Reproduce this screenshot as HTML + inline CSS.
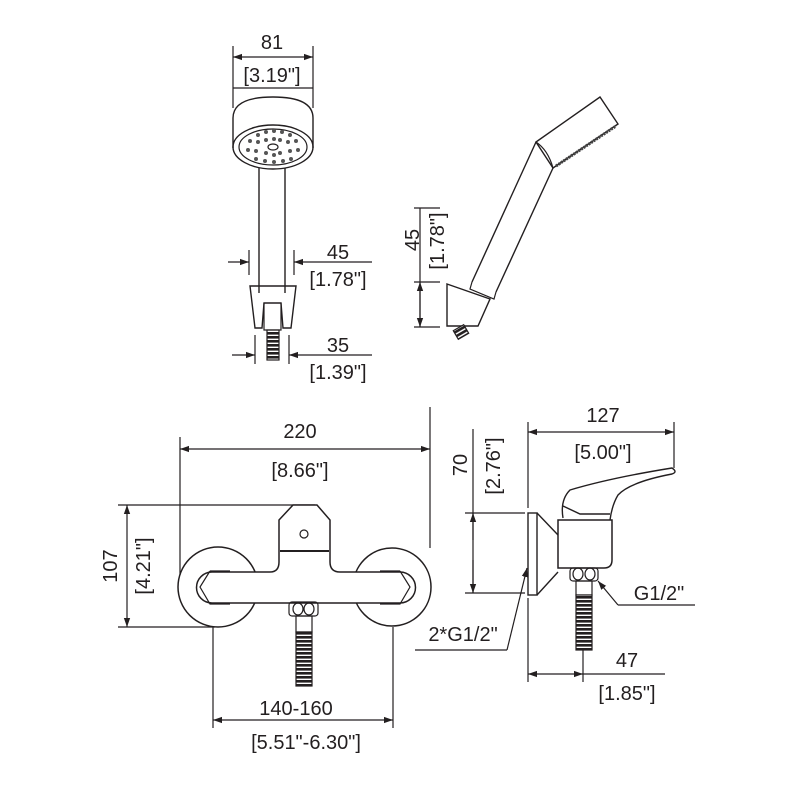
<!DOCTYPE html>
<html><head><style>html,body{margin:0;padding:0;background:#fff}svg{display:block}text{font-family:"Liberation Sans",sans-serif;font-size:20px;fill:#231f20}</style></head><body>
<svg width="800" height="800" viewBox="0 0 800 800" xmlns="http://www.w3.org/2000/svg">
<defs><marker id="a" viewBox="0 0 10 10" refX="10" refY="5" markerWidth="9" markerHeight="9" orient="auto-start-reverse" markerUnits="userSpaceOnUse"><path d="M0,1.5L10,5L0,8.5z" fill="#231f20"/></marker>
<pattern id="th" width="4" height="4" patternUnits="userSpaceOnUse"><rect width="4" height="4" fill="#fff"/><rect width="4" height="2.6" fill="#231f20"/></pattern></defs>
<g stroke="#231f20" fill="none" stroke-width="1.2">
<!-- top hand shower -->
<line x1="233" y1="46" x2="233" y2="108"/><line x1="313" y1="46" x2="313" y2="108"/>
<line x1="233" y1="57" x2="313" y2="57" marker-start="url(#a)" marker-end="url(#a)"/>
<line x1="233" y1="88" x2="313" y2="88"/>
<path d="M233,118 Q233,97 273,97 Q313,97 313,118 L313,148 M233,118 L233,148" stroke-width="1.4"/>
<ellipse cx="273" cy="147" rx="40" ry="22" stroke-width="1.4"/>
<ellipse cx="273" cy="147" rx="34" ry="18"/>
<g fill="#555" stroke="none">
<circle cx="258" cy="135" r="2"/><circle cx="266" cy="132" r="2"/><circle cx="274" cy="131" r="2"/><circle cx="282" cy="132" r="2"/><circle cx="290" cy="135" r="2"/>
<circle cx="250" cy="141" r="2"/><circle cx="258" cy="142" r="2"/><circle cx="288" cy="142" r="2"/><circle cx="296" cy="141" r="2"/>
<circle cx="248" cy="150" r="2"/><circle cx="256" cy="151" r="2"/><circle cx="290" cy="151" r="2"/><circle cx="298" cy="150" r="2"/>
<circle cx="256" cy="159" r="2"/><circle cx="265" cy="161" r="2"/><circle cx="274" cy="162" r="2"/><circle cx="283" cy="161" r="2"/><circle cx="291" cy="159" r="2"/>
<circle cx="266" cy="140" r="2"/><circle cx="280" cy="140" r="2"/><circle cx="266" cy="153" r="2"/><circle cx="280" cy="153" r="2"/><circle cx="274" cy="155" r="2"/><circle cx="274" cy="139" r="2"/>
</g>
<ellipse cx="273" cy="147" rx="5" ry="3"/>
<line x1="259" y1="168" x2="259" y2="293" stroke-width="1.4"/><line x1="285" y1="168" x2="285" y2="293" stroke-width="1.4"/>
<path d="M250,286 L296,286 L291,328 L283,328 L281,303 L264,303 L262,328 L255,328 Z" stroke-width="1.4"/>
<path d="M264,303 L264,330 L281,330 L281,303"/>
<rect x="267" y="330" width="12" height="30" fill="url(#th)"/>
<line x1="249" y1="250" x2="249" y2="275"/><line x1="294" y1="250" x2="294" y2="275"/>
<line x1="228" y1="262" x2="249" y2="262" marker-end="url(#a)"/><line x1="372" y1="262" x2="294" y2="262" marker-end="url(#a)"/>
<line x1="255" y1="335" x2="255" y2="364"/><line x1="289" y1="335" x2="289" y2="364"/>
<line x1="232" y1="355" x2="255" y2="355" marker-end="url(#a)"/><line x1="372" y1="355" x2="289" y2="355" marker-end="url(#a)"/>
<!-- angled hand shower -->
<path d="M536,142 L600,97 L618,124 L553,168 Z" stroke-width="1.4"/>
<path d="M536,142 Q548,150 553,168"/>
<line x1="556" y1="166" x2="616" y2="126" stroke="#444" stroke-width="3" stroke-dasharray="2 1"/>
<line x1="536" y1="142" x2="472" y2="282" stroke-width="1.4"/><line x1="553" y1="168" x2="496" y2="292" stroke-width="1.4"/>
<path d="M472,282 L470,289 L494,299 L496,292" stroke-width="1.2"/>
<path d="M447,284 L490,299 L478,326 L447,326 Z" stroke-width="1.4"/>
<rect x="455" y="327" width="12" height="10" fill="url(#th)" transform="rotate(-30 461 332)"/>
<line x1="414" y1="208" x2="440" y2="208"/><line x1="414" y1="282" x2="440" y2="282"/><line x1="414" y1="327" x2="440" y2="327"/>
<line x1="420" y1="208" x2="420" y2="327"/>
<line x1="420" y1="305" x2="420" y2="282" marker-end="url(#a)"/><line x1="420" y1="305" x2="420" y2="327" marker-end="url(#a)"/>
<!-- front mixer -->
<line x1="180" y1="437" x2="180" y2="575"/><line x1="430" y1="407" x2="430" y2="548"/>
<line x1="180" y1="449" x2="430" y2="449" marker-start="url(#a)" marker-end="url(#a)"/>
<line x1="118" y1="505" x2="315" y2="505"/><line x1="118" y1="627" x2="215" y2="627"/>
<line x1="127" y1="505" x2="127" y2="627" marker-start="url(#a)" marker-end="url(#a)"/>
<circle cx="218" cy="587" r="40" stroke-width="1.5"/><circle cx="392" cy="587" r="39" stroke-width="1.5"/>
<path d="M279,520 L293,505 L317,505 L330,520 L330,562 Q330,572 340,572 L400,572 A15.5,15.5 0 0 1 400,603 L212,603 A15.5,15.5 0 0 1 212,572 L270,572 Q279,572 279,562 Z" fill="#fff" stroke-width="1.5"/>
<line x1="280" y1="551" x2="329" y2="551" stroke-width="2"/>
<circle cx="304" cy="534" r="4"/>
<path d="M210,571 L200,587 L210,604 L230,604 M210,571 L230,571" stroke-width="1.2"/>
<path d="M400,571 L410,587 L400,604 L380,604 M400,571 L380,571"/>
<rect x="289" y="602" width="29" height="14" rx="3"/>
<ellipse cx="298" cy="609" rx="5" ry="6"/><ellipse cx="309" cy="609" rx="5" ry="6"/>
<rect x="296" y="616" width="16" height="16"/>
<rect x="296" y="632" width="16" height="54" fill="url(#th)"/>
<line x1="213" y1="627" x2="213" y2="728"/><line x1="393" y1="627" x2="393" y2="728"/>
<line x1="213" y1="720" x2="393" y2="720" marker-start="url(#a)" marker-end="url(#a)"/>
<line x1="415" y1="650" x2="507" y2="650"/><line x1="507" y1="650" x2="527" y2="568" marker-end="url(#a)"/>
<!-- side view -->
<line x1="528" y1="422" x2="528" y2="508"/><line x1="674" y1="422" x2="674" y2="468"/>
<line x1="528" y1="432" x2="674" y2="432" marker-start="url(#a)" marker-end="url(#a)"/>
<line x1="465" y1="513" x2="525" y2="513"/><line x1="465" y1="593" x2="525" y2="593"/>
<line x1="473" y1="429" x2="473" y2="593"/>
<line x1="473" y1="540" x2="473" y2="513" marker-end="url(#a)"/><line x1="473" y1="560" x2="473" y2="593" marker-end="url(#a)"/>
<rect x="528" y="513" width="9" height="82" stroke-width="1.4"/>
<path d="M537,513 L558,535 M537,595 L558,572" stroke-width="1.4"/>
<path d="M558,520 L612,520 L612,560 Q612,568 604,568 L558,568 Z" fill="#fff" stroke-width="1.5"/>
<path d="M563,518 Q560,500 570,490 Q610,478 672,468 Q678,472 672,474 Q630,482 618,495 Q612,505 610,520 M563,506 L580,514 L610,514" stroke-width="1.4"/>
<rect x="570" y="568" width="28" height="13" rx="3"/>
<ellipse cx="578" cy="574" rx="5" ry="6"/><ellipse cx="590" cy="574" rx="5" ry="6"/>
<rect x="576" y="581" width="16" height="14"/>
<rect x="576" y="595" width="16" height="55" fill="url(#th)"/>
<line x1="695" y1="605" x2="618" y2="605"/><line x1="618" y1="605" x2="598" y2="581" marker-end="url(#a)"/>
<line x1="528" y1="598" x2="528" y2="682"/><line x1="583" y1="650" x2="583" y2="682"/>
<line x1="528" y1="674" x2="583" y2="674" marker-start="url(#a)" marker-end="url(#a)"/>
<line x1="583" y1="674" x2="665" y2="674"/>
</g>
<g text-anchor="middle">
<text x="272" y="49">81</text><text x="272" y="82">[3.19"]</text>
<text x="338" y="259">45</text><text x="338" y="286">[1.78"]</text>
<text x="338" y="352">35</text><text x="338" y="379">[1.39"]</text>
<text transform="translate(419,240) rotate(-90)">45</text>
<text transform="translate(444,241) rotate(-90)">[1.78"]</text>
<text x="300" y="438" font-size="22">220</text><text x="300" y="477" font-size="22">[8.66"]</text>
<text transform="translate(117,566) rotate(-90)" font-size="22">107</text>
<text transform="translate(150,566) rotate(-90)" font-size="22">[4.21"]</text>
<text x="296" y="715" font-size="22">140-160</text><text x="306" y="749" font-size="22">[5.51"-6.30"]</text>
<text x="603" y="422" font-size="22">127</text><text x="603" y="459" font-size="22">[5.00"]</text>
<text transform="translate(467,465) rotate(-90)" font-size="22">70</text>
<text transform="translate(500,466) rotate(-90)" font-size="22">[2.76"]</text>
<text x="659" y="600" font-size="22">G1/2"</text>
<text x="463" y="641" font-size="22">2*G1/2"</text>
<text x="627" y="667" font-size="22">47</text><text x="627" y="700" font-size="22">[1.85"]</text>
</g>
</svg>
</body></html>
